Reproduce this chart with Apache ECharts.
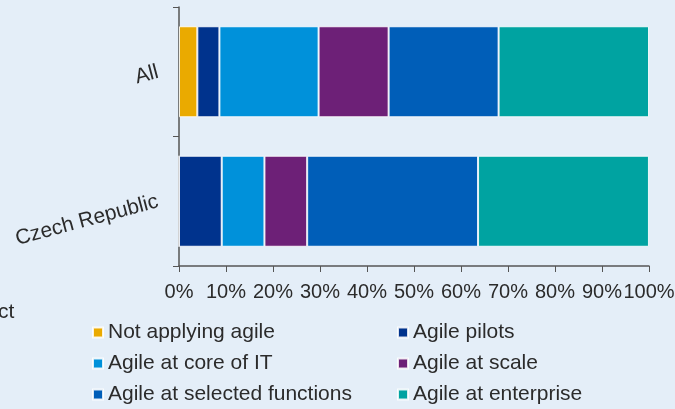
<!DOCTYPE html>
<html>
<head>
<meta charset="utf-8">
<script src="https://cdn.jsdelivr.net/npm/echarts@6/dist/echarts.min.js"></script>
<style>
  html, body { margin: 0; padding: 0; background: #e4eef8; }
  #chart { width: 675px; height: 409px; }
</style>
</head>
<body>
<div id="chart"></div>
<script>
// categories (top to bottom)
const categories = ['All', 'Czech Republic']

// share of respondents, %
const notApplying = [3.9, 0]
const pilots = [4.7, 9.09]
const coreOfIT = [21.1, 9.09]
const atScale = [14.9, 9.09]
const selectedFunctions = [23.4, 36.36]
const enterprise = [32.0, 36.36]

const seriesNames = [
  'Not applying agile',
  'Agile pilots',
  'Agile at core of IT',
  'Agile at scale',
  'Agile at selected functions',
  'Agile at enterprise'
]
const seriesValues = [notApplying, pilots, coreOfIT, atScale, selectedFunctions, enterprise]
const colors = ['#eaaa00', '#00338d', '#0091da', '#6d2077', '#005eb8', '#00a3a1']

const font = '"Liberation Sans", Arial, sans-serif'
const textColor = '#2b2b2b'
const chart = echarts.init(document.getElementById('chart'))

// legend laid out in two columns, like the original
const legendBase = {
  orient: 'vertical',
  top: 322,
  height: 90,
  padding: 0,
  itemWidth: 10,
  itemHeight: 10,
  itemGap: 10,
  icon: 'rect',
  textStyle: {
    fontFamily: font,
    fontSize: 21,
    color: textColor,
    lineHeight: 21
  }
}

chart.setOption({
  backgroundColor: '#e4eef8',
  animation: false,
  color: colors,
  textStyle: { fontFamily: font },
  grid: { left: 179, right: 26, top: 7, bottom: 143, outerBoundsMode: 'none' },
  legend: [
    Object.assign({}, legendBase, { left: 92, data: [seriesNames[0], seriesNames[2], seriesNames[4]] }),
    Object.assign({}, legendBase, { left: 397, data: [seriesNames[1], seriesNames[3], seriesNames[5]] })
  ],
  xAxis: {
    type: 'value',
    min: 0,
    max: 100,
    interval: 10,
    splitLine: { show: false },
    axisLine: { show: true, lineStyle: { color: '#555', width: 1.5 } },
    axisTick: { show: true, length: 6, lineStyle: { color: '#555' } },
    axisLabel: {
      formatter: '{value}%',
      fontSize: 20,
      color: textColor,
      margin: 16
    }
  },
  yAxis: {
    type: 'category',
    data: categories,
    inverse: true,
    axisLine: { show: true, lineStyle: { color: '#555', width: 1.5 } },
    axisTick: { show: true, length: 6, lineStyle: { color: '#555' } },
    axisLabel: {
      rotate: 15,
      fontSize: 21,
      color: textColor,
      margin: 21
    }
  },
  graphic: [{
    type: 'text',
    left: -2,
    top: 302,
    style: { text: 'ct', font: '21px ' + font, fill: textColor }
  }],
  series: seriesNames.map((name, i) => ({
    name: name,
    type: 'bar',
    stack: 'total',
    barWidth: 91,
    itemStyle: { borderColor: 'rgba(255,255,255,0.85)', borderWidth: 1 },
    data: seriesValues[i]
  }))
})
</script>
</body>
</html>
